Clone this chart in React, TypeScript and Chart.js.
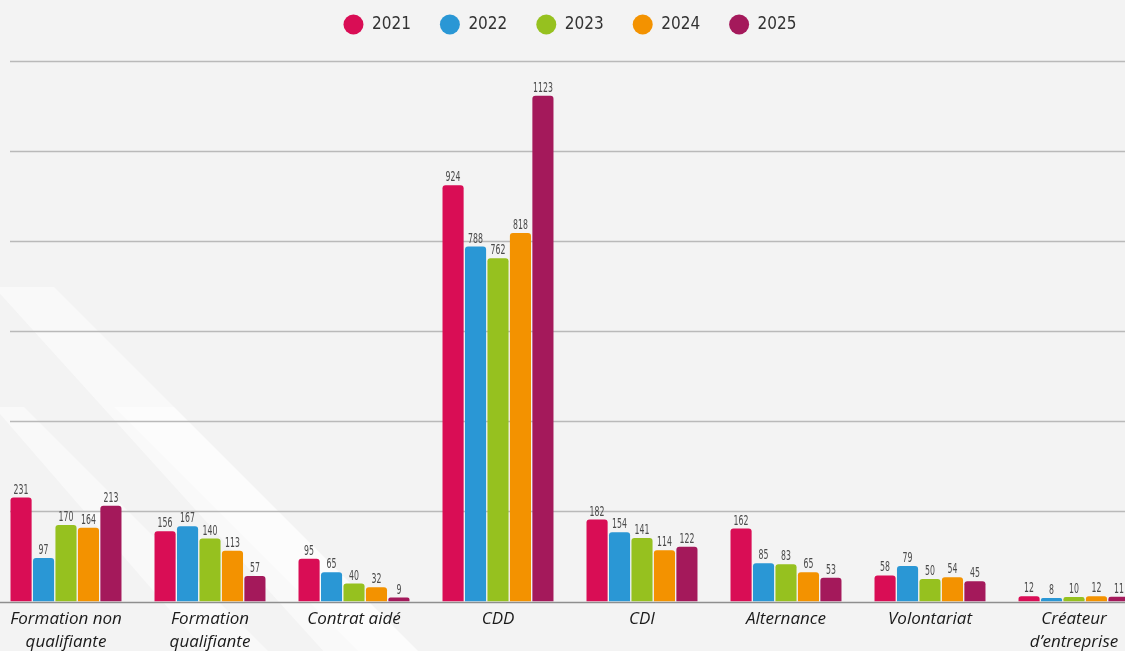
import React, { useEffect, useRef } from 'react';
import { Chart, registerables } from 'chart.js';
Chart.register(...registerables);

const categories: (string | string[])[] = [
  ['Formation non', 'qualifiante'],
  ['Formation', 'qualifiante'],
  'Contrat aidé',
  'CDD',
  'CDI',
  'Alternance',
  'Volontariat',
  ['Créateur', 'd’entreprise'],
];
const years = ['2021', '2022', '2023', '2024', '2025'];
const values2021 = [231, 156, 95, 924, 182, 162, 58, 12];
const values2022 = [97, 167, 65, 788, 154, 85, 79, 8];
const values2023 = [170, 140, 40, 762, 141, 83, 50, 10];
const values2024 = [164, 113, 32, 818, 114, 65, 54, 12];
const values2025 = [213, 57, 9, 1123, 122, 53, 45, 11];
const seriesValues = [values2021, values2022, values2023, values2024, values2025];
const colors = ['#d90d55', '#2a97d5', '#96c11f', '#f39200', '#a4195b'];
const yMax = 1200;
const yStep = 200;

const NARROW = "'DejaVu Sans Condensed', 'DejaVu Sans', sans-serif";

const backgroundPlugin = {
  id: 'bg',
  beforeDraw(chart: any) {
    const { ctx, width, height } = chart;
    ctx.save();
    ctx.fillStyle = '#f3f3f3';
    ctx.fillRect(0, 0, width, height);
    ctx.fillStyle = 'rgba(255,255,255,0.5)';
    const bands = [
      [0, 300, 60, 300, 480, 720, 380, 720],
      [0, 420, 30, 420, 330, 720, 260, 720],
      [120, 420, 180, 420, 480, 720, 420, 720],
    ];
    bands.forEach((b) => {
      ctx.beginPath();
      ctx.moveTo(b[0], b[1]);
      ctx.lineTo(b[2], b[3]);
      ctx.lineTo(b[4], b[5]);
      ctx.lineTo(b[6], b[7]);
      ctx.closePath();
      ctx.fill();
    });
    ctx.restore();
  },
};

const gridPlugin = {
  id: 'customGrid',
  beforeDatasetsDraw(chart: any) {
    const { ctx, chartArea, scales } = chart;
    const y = scales.y;
    ctx.save();
    for (let v = yStep; v <= yMax; v += yStep) {
      const py = Math.round(y.getPixelForValue(v)) + 0.5;
      ctx.strokeStyle = '#b9b9b9';
      ctx.lineWidth = 1.6;
      ctx.beginPath();
      ctx.moveTo(chartArea.left + 16, py);
      ctx.lineTo(chart.width, py);
      ctx.stroke();
    }
    const p0 = Math.round(y.getPixelForValue(0)) + 0.5;
    ctx.strokeStyle = '#8e8e8e';
    ctx.lineWidth = 1.6;
    ctx.beginPath();
    ctx.moveTo(0, p0);
    ctx.lineTo(chart.width, p0);
    ctx.stroke();
    ctx.restore();
  },
};

const valueLabelPlugin = {
  id: 'valueLabels',
  afterDatasetsDraw(chart: any) {
    const { ctx } = chart;
    ctx.save();
    ctx.font = `14px ${NARROW}`;
    ctx.fillStyle = '#4a4a4a';
    ctx.textAlign = 'center';
    ctx.textBaseline = 'alphabetic';
    chart.data.datasets.forEach((ds: any, i: number) => {
      const meta = chart.getDatasetMeta(i);
      meta.data.forEach((bar: any, j: number) => {
        ctx.save();
        ctx.translate(bar.x, bar.y - 4);
        ctx.scale(0.62, 1);
        ctx.fillText(String(ds.data[j]), 0, 0);
        ctx.restore();
      });
    });
    ctx.restore();
  },
};

const legendSpacingPlugin = {
  id: 'legendSpacing',
  beforeInit(chart: any) {
    const legend = chart.legend;
    if (!legend) return;
    const originalFit = legend.fit;
    legend.fit = function () {
      originalFit.bind(legend)();
      this.height += 18;
    };
  },
};

export default function App() {
  const canvasRef = useRef<HTMLCanvasElement | null>(null);

  useEffect(() => {
    if (!canvasRef.current) return;
    const chart = new Chart(canvasRef.current, {
      type: 'bar',
      data: {
        labels: categories,
        datasets: years.map((yr, i) => ({
          label: yr,
          data: seriesValues[i],
          backgroundColor: colors[i],
          borderColor: colors[i],
          borderWidth: 0,
          borderRadius: { topLeft: 3, topRight: 3, bottomLeft: 0, bottomRight: 0 },
          borderSkipped: 'bottom',
          categoryPercentage: 0.78,
          barPercentage: 0.94,
        })),
      },
      options: {
        animation: false,
        responsive: true,
        maintainAspectRatio: false,
        layout: { padding: 0 },
        plugins: {
          legend: {
            display: true,
            position: 'top',
            labels: {
              usePointStyle: true,
              pointStyle: 'circle',
              pointStyleWidth: 20,
              boxHeight: 14,
              padding: 29,
              color: '#333',
              font: { family: NARROW, size: 17 },
            },
          },
          tooltip: { enabled: false },
        },
        scales: {
          x: {
            grid: { display: false },
            border: { display: false },
            ticks: {
              color: '#1a1a1a',
              padding: -2,
              maxRotation: 0,
              autoSkip: false,
              font: { family: "'Open Sans', sans-serif", size: 17, style: 'italic', lineHeight: 1.365 },
            },
          },
          y: {
            display: false,
            min: 0,
            max: yMax,
            ticks: { stepSize: yStep },
          },
        },
      },
      plugins: [backgroundPlugin, gridPlugin, valueLabelPlugin, legendSpacingPlugin],
    });
    return () => chart.destroy();
  }, []);

  return (
    <div style={{ position: 'fixed', inset: 0, overflow: 'hidden', background: '#f3f3f3' }}>
      <div style={{ position: 'absolute', left: -6, top: -13, width: 1152, height: 665 }}>
        <canvas ref={canvasRef} />
      </div>
    </div>
  );
}
